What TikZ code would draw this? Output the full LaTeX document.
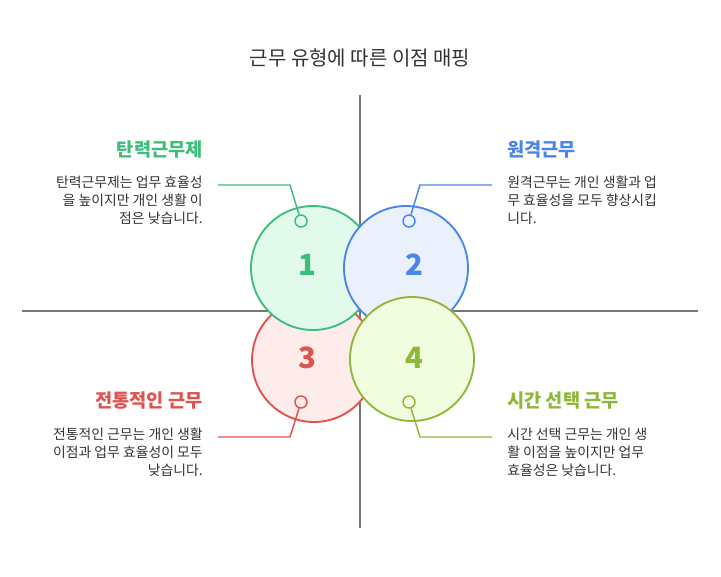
\documentclass[tikz,border=0pt]{standalone}
\usepackage{fontspec}
\setmainfont{Noto Sans CJK KR}
\usetikzlibrary{positioning}

\definecolor{grn}{HTML}{3DBE7B}
\definecolor{grnfill}{HTML}{E1FAEC}
\definecolor{blu}{HTML}{4A86E8}
\definecolor{blufill}{HTML}{EAF1FD}
\definecolor{red}{HTML}{E0524E}
\definecolor{redfill}{HTML}{FDECEA}
\definecolor{olv}{HTML}{8DB83A}
\definecolor{olvfill}{HTML}{F2FCDE}
\definecolor{axis}{HTML}{777777}
\definecolor{txt}{HTML}{333333}

\tikzset{
  bigc/.style={circle,draw,line width=1.4pt,minimum size=93pt,inner sep=0pt},
  dot/.style={circle,draw,line width=1.1pt,fill=white,minimum size=9pt,inner sep=0pt},
  num/.style={font=\fontsize{22}{22}\selectfont\bfseries},
  head/.style={font=\fontsize{14}{16}\selectfont\bfseries,inner sep=0pt},
  body/.style={font=\fontsize{10.4}{13.5}\selectfont,text=txt,inner sep=0pt},
  conn/.style={line width=1.1pt}
}

\begin{document}
\begin{tikzpicture}[x=0.75pt,y=-0.75pt]
\useasboundingbox (0,0) rectangle (721,576);

\node[font=\fontsize{15}{16}\selectfont,text=txt] (title) at (360,58) {근무 유형에 따른 이점 매핑};

% axes
\draw[axis,line width=1pt] (360,95) -- (360,528);
\draw[axis,line width=1pt] (22,311) -- (698,311);

% circles
\node[bigc,draw=red,fill=redfill] (c3) at (314,360) {};
\node[bigc,draw=grn,fill=grnfill] (c1) at (313,268) {};
\node[bigc,draw=blu,fill=blufill] (c2) at (406,268) {};
\node[bigc,draw=olv,fill=olvfill] (c4) at (412,359) {};

\node[num,text=grn] at (307,265) {1};
\node[num,text=blu] at (414,265) {2};
\node[num,text=red] at (307,358) {3};
\node[num,text=olv] at (414,358) {4};

% dots
\node[dot,draw=grn,fill=grnfill] (d1) at (301,221) {};
\node[dot,draw=blu,fill=blufill] (d2) at (409,221) {};
\node[dot,draw=red,fill=redfill] (d3) at (301,402) {};
\node[dot,draw=olv,fill=olvfill] (d4) at (409,402) {};

\coordinate (k1) at (290,185); \coordinate (e1) at (218,185);
\coordinate (k2) at (420,185); \coordinate (e2) at (492,185);
\coordinate (k3) at (290,437); \coordinate (e3) at (218,437);
\coordinate (k4) at (420,437); \coordinate (e4) at (492,437);

\draw[conn,grn] (d1) -- (k1) -- (e1);
\draw[conn,blu] (d2) -- (k2) -- (e2);
\draw[conn,red] (d3) -- (k3) -- (e3);
\draw[conn,olv] (d4) -- (k4) -- (e4);

% headings
\node[head,text=grn,anchor=east] (h1) at (203,150) {탄력근무제};
\node[head,text=blu,anchor=west] (h2) at (507,150) {원격근무};
\node[head,text=red,anchor=east] (h3) at (203,401) {전통적인 근무};
\node[head,text=olv,anchor=west] (h4) at (507,401) {시간 선택 근무};

% texts
\node[body,anchor=north east,align=right] (t1) at (203,176)
  {탄력근무제는 업무 효율성\\을 높이지만 개인 생활 이\\점은 낮습니다.};
\node[body,anchor=north west,align=left] (t2) at (507,176)
  {원격근무는 개인 생활과 업\\무 효율성을 모두 향상시킵\\니다.};
\node[body,anchor=north east,align=right] (t3) at (203,428)
  {전통적인 근무는 개인 생활\\이점과 업무 효율성이 모두\\낮습니다.};
\node[body,anchor=north west,align=left] (t4) at (507,428)
  {시간 선택 근무는 개인 생\\활 이점을 높이지만 업무\\효율성은 낮습니다.};
\end{tikzpicture}
\end{document}
